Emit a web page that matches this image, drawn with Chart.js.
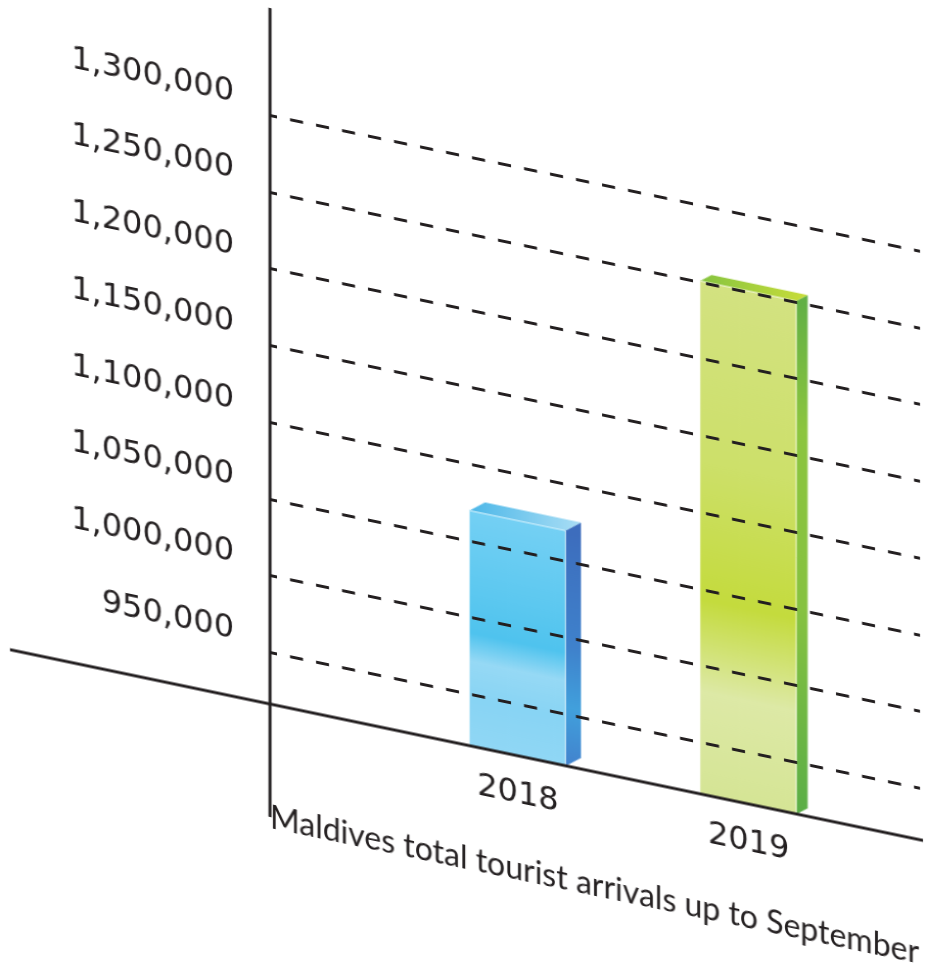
<!DOCTYPE html>
<html>
<head>
<meta charset="utf-8">
<title>Maldives tourist arrivals</title>
<script src="https://cdn.jsdelivr.net/npm/chart.js@4.4.1/dist/chart.umd.min.js"></script>
<style>
  html, body { margin: 0; padding: 0; background: #fff; overflow: hidden; }
  #wrap { width: 928px; height: 965px; transform: skewY(11.8deg); transform-origin: 270px 0; }
</style>
</head>
<body>
<div id="wrap"><canvas id="arrivalsChart" width="928" height="965"></canvas></div>
<script>
// data
const years = [2018, 2019];
const arrivals = [1070000, 1251000];
const yTicks = [950000, 1000000, 1050000, 1100000, 1150000, 1200000, 1250000, 1300000];
const axisTitle = 'Maldives total tourist arrivals up to September';

const yMin = 916500;
const yMax = 1370000;
const ink = '#231f20';

// bar colours (front, right side, top)
const frontStops = [
    [[0, '#74d0f4'], [0.35, '#5cc8f0'], [0.52, '#4fc3ee'], [0.64, '#96d9f5'], [0.8, '#88d4f4'], [1, '#90d7f5']],
    [[0, '#d3e281'], [0.35, '#cde06a'], [0.62, '#c4db3d'], [0.8, '#dde9a6'], [1, '#d5e595']]
];
const sideStops = [
    [[0, '#3d6dbd'], [0.5, '#3f82cc'], [0.75, '#41a0dc'], [1, '#4282cd']],
    [[0, '#62b045'], [0.25, '#8cc53f'], [0.6, '#86c240'], [1, '#5aae47']]
];
const topStops = [
    [[0, '#4cb7e8'], [1, '#aadef5']],
    [[0, '#86c440'], [1, '#c9dd3a']]
];
const depth = [[15, 11], [11, 8]];

function grad(ctx, x0, y0, x1, y1, stops) {
    const g = ctx.createLinearGradient(x0, y0, x1, y1);
    stops.forEach(s => g.addColorStop(s[0], s[1]));
    return g;
}

// side and top faces of the bars + the two long axis lines
const barDepth = {
    id: 'barDepth',
    afterDatasetsDraw(chart) {
        const ctx = chart.ctx;
        chart.getDatasetMeta(0).data.forEach((bar, i) => {
            const { x, y, base, width } = bar.getProps(['x', 'y', 'base', 'width'], true);
            const l = x - width / 2, r = x + width / 2;
            const [dx, dy] = depth[i];
            ctx.save();
            ctx.beginPath();
            ctx.moveTo(r, y);
            ctx.lineTo(r + dx, y - dy);
            ctx.lineTo(r + dx, base - dy);
            ctx.lineTo(r, base);
            ctx.closePath();
            ctx.fillStyle = grad(ctx, 0, y, 0, base, sideStops[i]);
            ctx.fill();

            ctx.beginPath();
            ctx.moveTo(l, y);
            ctx.lineTo(l + dx, y - dy);
            ctx.lineTo(r + dx, y - dy);
            ctx.lineTo(r, y);
            ctx.closePath();
            ctx.fillStyle = grad(ctx, l, 0, r + dx, 0, topStops[i]);
            ctx.fill();

            ctx.strokeStyle = 'rgba(255,255,255,0.75)';
            ctx.lineWidth = 1;
            ctx.beginPath();
            ctx.moveTo(l, y + 0.5);
            ctx.lineTo(r - 0.5, y + 0.5);
            ctx.lineTo(r - 0.5, base);
            ctx.stroke();
            ctx.restore();
        });
    },
    afterDraw(chart) {
        const ctx = chart.ctx;
        const area = chart.chartArea;
        const baseY = chart.scales.y.getPixelForValue(yMin);
        ctx.save();
        ctx.strokeStyle = ink;
        ctx.lineWidth = 3;
        ctx.beginPath();
        ctx.moveTo(area.left, area.top);
        ctx.lineTo(area.left, baseY + 113);
        ctx.moveTo(10, baseY);
        ctx.lineTo(area.right + 3, baseY);
        ctx.stroke();
        ctx.restore();
    }
};

const ctx = document.getElementById('arrivalsChart').getContext('2d');
new Chart(ctx, {
    type: 'bar',
    data: {
        datasets: [{
            label: axisTitle,
            data: years.map((yr, i) => ({ x: yr, y: arrivals[i] })),
            base: yMin,
            barThickness: 96,
            borderWidth: 0,
            backgroundColor: c => {
                const chart = c.chart;
                if (!chart.chartArea) return '#cccccc';
                const ys = chart.scales.y;
                return grad(chart.ctx, 0, ys.getPixelForValue(arrivals[c.dataIndex]), 0, ys.getPixelForValue(yMin), frontStops[c.dataIndex]);
            }
        }]
    },
    options: {
        responsive: false,
        animation: false,
        layout: { padding: { top: 8, right: 8, left: 0, bottom: 0 } },
        plugins: {
            legend: { display: false },
            tooltip: { enabled: false }
        },
        scales: {
            x: {
                type: 'linear',
                offset: false,
                min: 2016.925,
                max: 2019.743,
                afterBuildTicks: s => { s.ticks = years.map(v => ({ value: v })); },
                afterFit: s => { s.height = 261; s.paddingLeft = 0; s.paddingRight = 0; },
                grid: { display: false, offset: false },
                border: { display: false },
                ticks: {
                    padding: 11,
                    autoSkip: false,
                    maxRotation: 0,
                    color: ink,
                    font: { family: 'DejaVu Sans', size: 32 },
                    callback: v => String(v)
                },
                title: {
                    display: true,
                    text: axisTitle,
                    align: 'start',
                    color: ink,
                    font: { family: 'Lato', size: 32 },
                    padding: { top: 0, bottom: 128 }
                }
            },
            y: {
                min: yMin,
                max: yMax,
                afterBuildTicks: s => { s.ticks = yTicks.map(v => ({ value: v })); },
                afterFit: s => { s.width = 270; s.paddingTop = 0; s.paddingBottom = 0; },
                grid: { color: ink, lineWidth: 3, drawTicks: false, z: 1 },
                border: { display: false, dash: [13, 13], dashOffset: 6 },
                ticks: {
                    padding: 36,
                    labelOffset: -15,
                    color: ink,
                    font: { family: 'DejaVu Sans', size: 32 },
                    callback: v => v.toLocaleString('en-US')
                }
            }
        }
    },
    plugins: [barDepth]
});
</script>
</body>
</html>
